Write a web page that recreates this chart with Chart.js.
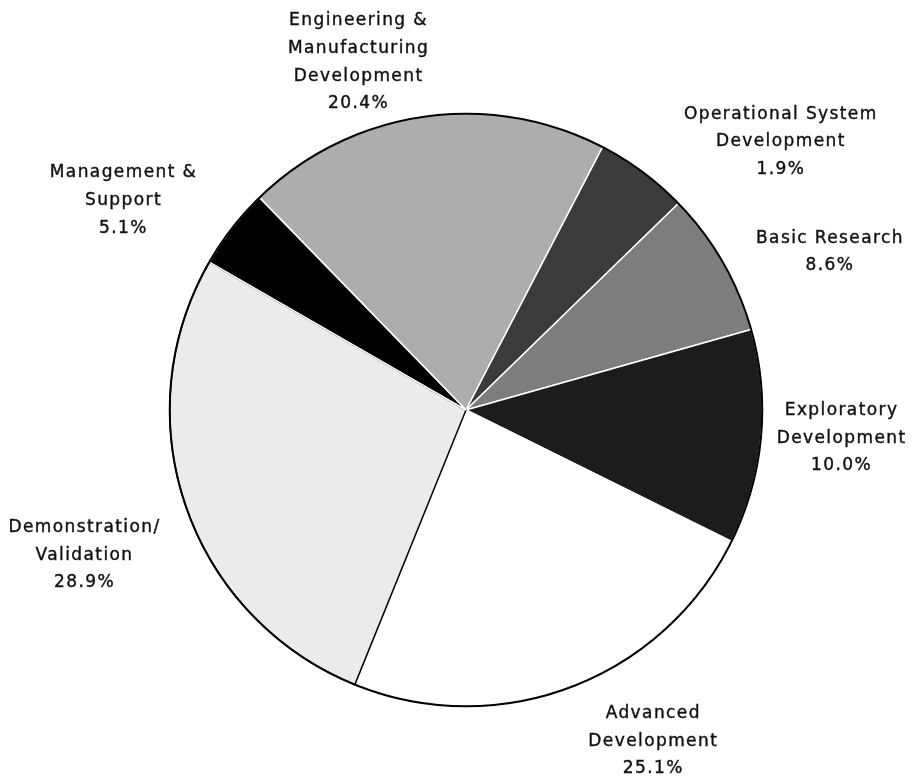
<!DOCTYPE html>
<html>
<head>
<meta charset="utf-8">
<title>R&D budget shares</title>
<script src="https://cdn.jsdelivr.net/npm/chart.js@4.4.1/dist/chart.umd.min.js"></script>
<style>
  html, body { margin: 0; padding: 0; background: #fff; }
  #wrap { width: 916px; height: 780px; }
</style>
</head>
<body>
<div id="wrap"><canvas id="pieChart" width="916" height="780"></canvas></div>
<script>
// Slice names, clockwise from the upper left (label lines split with \n)
const categories = [
    'Engineering &\nManufacturing\nDevelopment',
    'Operational System\nDevelopment',
    'Basic Research',
    'Exploratory\nDevelopment',
    'Advanced\nDevelopment',
    'Demonstration/\nValidation',
    'Management &\nSupport'
];

const sliceShares = [19.9, 5.1, 7.9, 11.7, 23.8, 27.2, 4.4];

// Percentages printed under each label
const printedPercents = [20.4, 1.9, 8.6, 10.0, 25.1, 28.9, 5.1];

// Fill and edge colours per slice
const fills = ['#adadad', '#3b3b3b', '#7d7d7d', '#1c1c1c', '#ffffff', '#ebebeb', '#000000'];
const edges = ['#ffffff', '#ffffff', '#ffffff', '#ffffff', '#ffffff', '#000000', '#ffffff'];

// Where each label sits: shift from the slice middle (deg) and distance (x radius)
const labelShift = [-8.9, 12.9, 6.5, -1.0, -8.6, -1.8, -6.5];
const labelDist = [1.229, 1.394, 1.337, 1.269, 1.283, 1.380, 1.357];

// Draws the black rim round the pie
const rimPlugin = {
    id: 'rim',
    afterDatasetsDraw(chart) {
        const arc = chart.getDatasetMeta(0).data[0];
        if (!arc) return;
        const ctx = chart.ctx;
        ctx.save();
        ctx.beginPath();
        ctx.arc(arc.x, arc.y, arc.outerRadius, 0, Math.PI * 2);
        ctx.lineWidth = 2;
        ctx.strokeStyle = '#000';
        ctx.stroke();
        ctx.restore();
    }
};

// Writes the names and percentages outside the pie
const outsideLabels = {
    id: 'outsideLabels',
    afterDraw(chart) {
        const ctx = chart.ctx;
        const arcs = chart.getDatasetMeta(0).data;
        ctx.save();
        ctx.font = '17px "DejaVu Sans", Verdana, sans-serif';
        ctx.letterSpacing = '1.4px';
        ctx.fillStyle = '#111';
        ctx.strokeStyle = '#111';
        ctx.lineWidth = 0.4;
        ctx.textAlign = 'center';
        ctx.textBaseline = 'middle';
        const pitch = 27.7;
        arcs.forEach((arc, i) => {
            const mid = (arc.startAngle + arc.endAngle) / 2 + labelShift[i] * Math.PI / 180;
            const r = arc.outerRadius * labelDist[i];
            const cx = arc.x + Math.cos(mid) * r;
            const cy = arc.y + Math.sin(mid) * r;
            const lines = chart.data.labels[i].split('\n');
            lines.push(printedPercents[i].toFixed(1) + '%');
            const top = cy - (lines.length - 1) * pitch / 2;
            lines.forEach((line, j) => {
                ctx.fillText(line, cx + 0.7, top + j * pitch);
                ctx.strokeText(line, cx + 0.7, top + j * pitch);
            });
        });
        ctx.restore();
    }
};

const ctxPie = document.getElementById('pieChart').getContext('2d');
const pieChart = new Chart(ctxPie, {
    type: 'pie',
    data: {
        labels: categories,
        datasets: [{
            data: sliceShares,
            backgroundColor: fills,
            borderColor: edges,
            borderWidth: 1.5
        }]
    },
    options: {
        responsive: false,
        animation: false,
        rotation: 315.8,
        layout: {
            padding: { left: 169, right: 153, top: 113, bottom: 73 }
        },
        plugins: {
            legend: { display: false },
            tooltip: { enabled: false }
        }
    },
    plugins: [rimPlugin, outsideLabels]
});
</script>
</body>
</html>
